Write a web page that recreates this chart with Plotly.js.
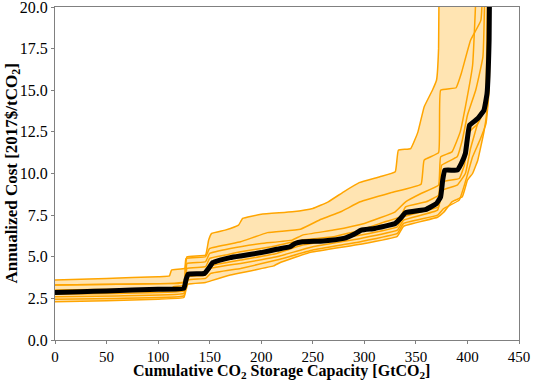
<!DOCTYPE html>
<html>
<head>
<meta charset="utf-8">
<script src="https://cdn.plot.ly/plotly-3.0.1.min.js"></script>
<style>html,body{margin:0;padding:0;background:#fff;}#chart{width:533px;height:381px;}</style>
</head>
<body>
<div id="chart"></div>
<script>
// Cumulative capacity [GtCO2] and annualized cost [2017$/tCO2] per scenario curve
const topX = [0,50,100,111,113,126,128,146,149,152,165,178,182,200,230,250,265,280,295,315,330,333,345,352,358,366,370,372,373];
const topY = [3.6,3.7,3.8,3.85,4.2,4.3,5.0,5.1,6.0,6.4,6.6,6.9,7.3,7.55,7.7,7.9,8.3,8.9,9.45,9.8,10.1,11.4,11.5,12.5,14.0,15.0,15.6,17.5,25];

const bX = [0,60,125,127,146,150,180,206,238,258,277,296,326,355,358,372,374,389,394,403,413,416];
const bY = [3.3,3.35,3.5,4.9,5.0,5.5,5.9,6.45,6.65,7.25,7.7,8.3,8.85,9.35,10.8,11.25,15.0,15.15,16.0,18.0,19.2,25];

const cX = [0,60,120,126,128,146,150,170,200,230,240,270,300,330,340,355,372,374,385,393,398,405,411];
const cY = [3.3,3.35,3.4,3.45,4.6,4.7,5.2,5.5,5.8,6.0,6.3,6.6,7.0,7.7,8.3,8.8,9.3,11.0,11.3,12.5,14.0,16.5,25];

const dX = [0,60,113,115,126,128,146,150,165,180,210,240,270,296,320,335,340,360,372,375,390,395,400,408,415,418];
const dY = [3.0,3.05,3.1,3.2,3.3,4.3,4.4,4.9,5.1,5.3,5.6,6.0,6.2,6.6,7.1,7.4,8.0,8.3,8.7,10.5,11.0,12.0,13.5,15.0,17.0,25];

const eX = [0,60,125,127,129,146,151,180,215,240,296,332,338,372,376,392,397,402,410,417,420];
const eY = [2.75,2.8,2.95,3.6,3.95,4.0,4.45,4.8,5.2,5.7,6.3,6.8,7.4,8.0,9.5,9.7,10.5,12.5,13.0,14.0,25];

const fX = [0,60,125,127,129,146,151,180,215,250,296,332,338,371,376,390,398,403,410,418,421];
const fY = [2.6,2.65,2.8,3.4,3.8,3.9,4.3,4.6,5.0,5.6,6.1,6.6,7.2,7.8,9.0,9.3,10.0,11.5,13.0,14.0,25];

const gX = [0,60,125,127,129,146,151,180,215,250,296,332,338,371,377,392,398,405,412,418,421,422];
const gY = [2.45,2.5,2.65,3.2,3.6,3.7,4.0,4.3,4.8,5.4,5.9,6.4,7.0,7.5,7.9,8.4,9.5,11.0,12.0,13.0,15,25];

const lowX = [0,50,100,125,127,129,146,151,170,212,219,248,296,332,338,371,377,385,395,400,405,410,416,419,421,422];
const lowY = [2.3,2.35,2.45,2.55,3.0,3.35,3.45,3.55,3.9,4.45,4.67,5.27,5.75,6.23,6.83,7.37,7.67,8.3,8.6,9.6,10.0,10.8,12.5,13.8,16,25];

const medX = [0,25,50,100,125,127,129,145,149,153,160,170,180,200,215,228,233,240,260,280,290,297,310,330,335,340,360,370,374,376,378,390,394,398,402,410,416,419,421,422];
const medY = [2.85,2.9,2.95,3.05,3.1,3.6,3.95,4.0,4.3,4.65,4.8,4.95,5.05,5.25,5.45,5.6,5.8,5.9,5.95,6.1,6.35,6.6,6.7,7.0,7.3,7.65,7.85,8.2,8.6,9.6,10.2,10.2,10.6,11.2,12.9,13.3,13.8,14.8,18,25];

const xTicks = [0,50,100,150,200,250,300,350,400,450];
const yTicks = [0,2.5,5,7.5,10,12.5,15,17.5,20];
const xTitle = '<b>Cumulative CO<sub>2</sub> Storage Capacity [GtCO<sub>2</sub>]</b>';
const yTitle = '<b>Annualized Cost [2017$/tCO<sub>2</sub>]</b>';

const ORANGE = '#FFA500';
const FILL = 'rgba(255,165,0,0.3)';

const curves = [[topX,topY],[bX,bY],[cX,cY],[dX,dY],[eX,eY],[fX,fY],[gX,gY],[lowX,lowY]];

const traces = [];
// band between the highest and lowest curve
traces.push({
  x: topX.concat(lowX.slice().reverse()),
  y: topY.concat(lowY.slice().reverse()),
  type: 'scatter', mode: 'lines', fill: 'toself', fillcolor: FILL,
  line: {width: 0}, hoverinfo: 'skip', showlegend: false
});
curves.forEach(c => traces.push({
  x: c[0], y: c[1], type: 'scatter', mode: 'lines',
  line: {color: ORANGE, width: 1.5, shape: 'spline', smoothing: 0.3}, showlegend: false
}));
traces.push({
  x: medX, y: medY, type: 'scatter', mode: 'lines',
  line: {color: '#000000', width: 5, shape: 'spline', smoothing: 0.3}, showlegend: false
});

const FONT = '"Liberation Serif", "Times New Roman", serif';
const layout = {
  width: 533, height: 381,
  margin: {l: 55, r: 14, t: 7, b: 41},
  paper_bgcolor: '#fff', plot_bgcolor: '#fff',
  font: {family: FONT, color: '#000', size: 16},
  showlegend: false,
  xaxis: {
    range: [0, 450], tickvals: xTicks, ticktext: xTicks.map(String),
    showgrid: false, zeroline: false, showline: true, mirror: true,
    linecolor: '#808080', linewidth: 1, ticks: 'outside', ticklen: 3, tickcolor: '#808080',
    tickfont: {family: FONT, size: 15, color: '#000'},
    ticklabeloverflow: 'allow', automargin: false
  },
  yaxis: {
    range: [0, 20.0001], tickvals: yTicks, ticktext: yTicks.map(v => v.toFixed(1)),
    showgrid: false, zeroline: false, showline: true, mirror: true,
    linecolor: '#808080', linewidth: 1, ticks: 'outside', ticklen: 3, tickcolor: '#808080',
    tickfont: {family: FONT, size: 16, color: '#000'},
    ticklabeloverflow: 'allow', automargin: false
  },
  annotations: [
    {text: xTitle, xref: 'paper', yref: 'paper', x: 0.489, y: 0, xanchor: 'center', yanchor: 'top',
     yshift: -21, borderpad: 0, showarrow: false, font: {family: FONT, size: 16, color: '#000'}},
    {text: yTitle, xref: 'paper', yref: 'paper', x: 0, y: 0.5, xanchor: 'center', yanchor: 'middle',
     xshift: -43, borderpad: 0, textangle: -90, showarrow: false, font: {family: FONT, size: 17, color: '#000'}}
  ]
};

Plotly.newPlot('chart', traces, layout, {staticPlot: true, displayModeBar: false});
</script>
</body>
</html>
